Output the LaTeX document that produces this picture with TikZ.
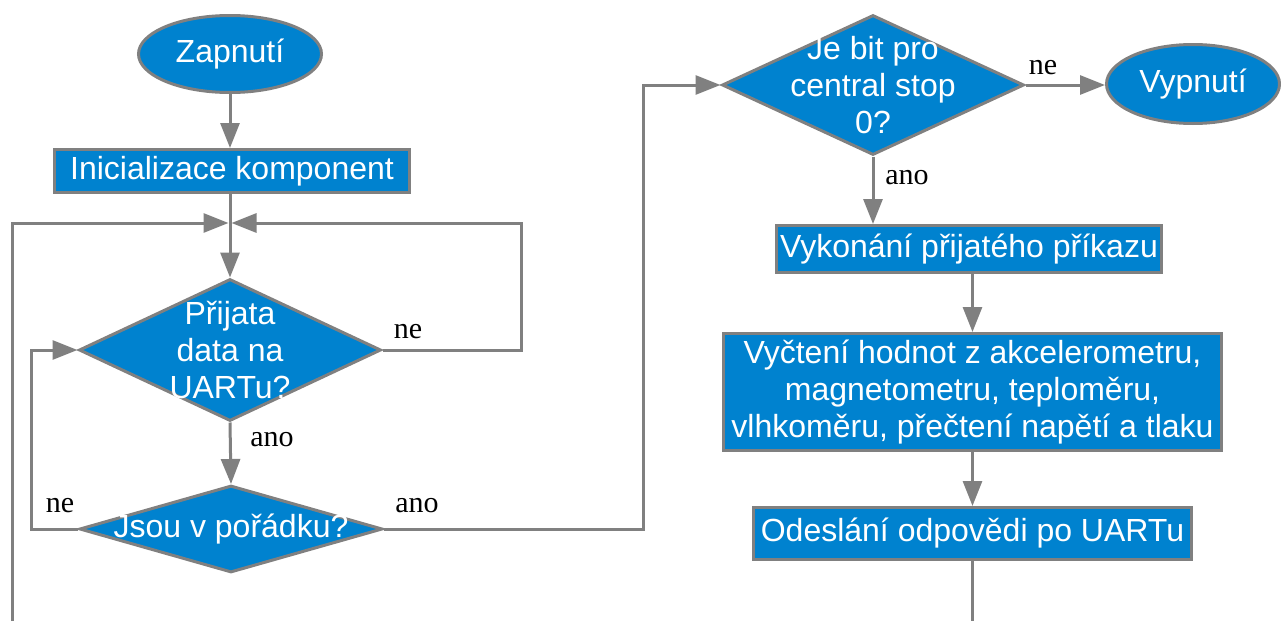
\documentclass[tikz,border=0pt]{standalone}
\usepackage{fontspec}
\setmainfont{Liberation Serif}
\setsansfont{Liberation Sans}
\usetikzlibrary{shapes.geometric,arrows.meta}
\definecolor{fcblue}{RGB}{0,130,207}
\definecolor{fcgray}{RGB}{128,128,128}
\begin{document}
\begin{tikzpicture}[x=1pt,y=-1pt,
 base/.style={draw=fcgray, line width=3pt, fill=fcblue, text=white, font=\sffamily\fontsize{32}{37}\selectfont, inner sep=0pt, align=center},
 procbox/.style={base, rectangle},
 termnode/.style={base, ellipse},
 decnode/.style={base, diamond},
 dtext/.style={text=white, font=\sffamily\fontsize{32}{37}\selectfont, align=center, inner sep=0pt},
 lbl/.style={font=\fontsize{30}{30}\selectfont, inner sep=0pt},
 conn/.style={draw=fcgray, line width=3pt},
 arr/.style={conn, -{Triangle[length=25pt,width=19pt]}}
]
\useasboundingbox (0,0) rectangle (1281,621);

\node[termnode, minimum width=183pt, minimum height=77pt] (zap) at (230,54) {Zapnutí};
\node[procbox, minimum width=355pt, minimum height=43pt] (init) at (232,171) {Inicializace komponent};
\node[decnode, minimum width=302pt, minimum height=142pt] (d1) at (230,350) {};
\node[dtext] (d1t) at (d1.center) {Přijata\\data na\\UARTu?};
\node[decnode, minimum width=303pt, minimum height=87pt] (d2) at (231,529) {};
\node[dtext] (d2t) at (d2.center) {Jsou v pořádku?};
\node[decnode, minimum width=302pt, minimum height=140pt] (d3) at (873,85) {};
\node[dtext] (d3t) at (d3.center) {Je bit pro\\central stop\\0?};
\node[termnode, minimum width=173pt, minimum height=79pt] (vyp) at (1193,84) {Vypnutí};
\node[procbox, minimum width=385pt, minimum height=47pt] (vyk) at (969,249) {Vykonání přijatého příkazu};
\node[procbox, minimum width=498pt, minimum height=117pt] (meas) at (972.5,392) {Vyčtení hodnot z akcelerometru,\\magnetometru, teploměru,\\vlhkoměru, přečtení napětí a tlaku};
\node[procbox, minimum width=438pt, minimum height=52pt] (odes) at (972.5,533.5) {Odeslání odpovědi po UARTu};

\coordinate (jn) at (230,223);
\coordinate (bl) at (12,621);
\coordinate (rl) at (521,223);
\coordinate (il) at (31,350);
\coordinate (mr) at (643,85);
\coordinate (br) at (972.5,621);

\draw[arr] (zap.south) -- (zap.south |- init.north);
\draw[arr] (d1.north |- init.south) -- (d1.north);
\draw[arr] (bl) -- (bl |- jn) -- ([xshift=-1.5pt]jn);
\draw[arr] (d1.east) -| (rl) -- ([xshift=1.5pt]jn);
\draw[arr] (d1.south) -- (d2.north);
\draw[arr] (d2.west) -| (il) -- (d1.west);
\draw[arr] (d2.east) -| (mr) -- (d3.west);
\draw[arr] (d3.east) -- (d3.east -| vyp.west);
\draw[arr] (d3.south) -- (d3.south |- vyk.north);
\draw[arr] (meas.north |- vyk.south) -- (meas.north);
\draw[arr] (meas.south) -- (odes.north);
\draw[conn] (odes.south) -- (br);

\node[lbl] (l1) at (408,332) {ne};
\node[lbl] (l2) at (272,440) {ano};
\node[lbl] (l3) at (60,506) {ne};
\node[lbl] (l4) at (417,506) {ano};
\node[lbl] (l5) at (1043,68) {ne};
\node[lbl] (l6) at (907,178) {ano};
\end{tikzpicture}
\end{document}
